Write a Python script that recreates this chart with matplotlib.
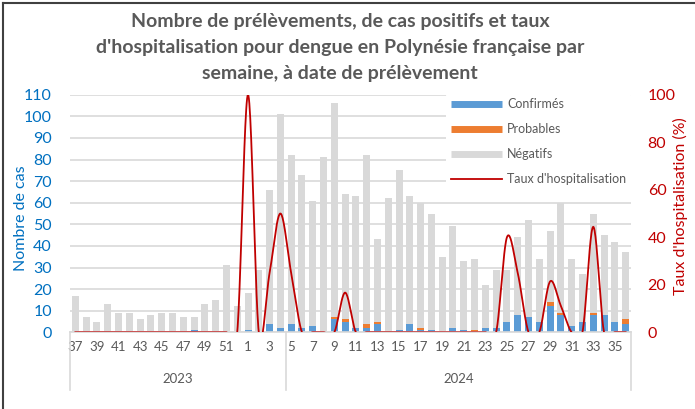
import numpy as np
import matplotlib
matplotlib.use("Agg")
import matplotlib.pyplot as plt
from matplotlib.lines import Line2D

plt.rcParams["font.family"] = ["Lato", "DejaVu Sans"]

# semaines : 37-52 (2023) puis 1-36 (2024)
weeks = list(range(37, 53)) + list(range(1, 37))
year_labels = ["2023", "2024"]
year_sizes = [20, 32]  # nombre de semaines par groupe d'année (comme dans Excel)

totals = [17, 7, 5, 13, 9, 9, 6, 8, 9, 9, 7, 7, 13, 15, 31, 12,
          18, 29, 66, 101, 82, 73, 61, 81, 106, 64, 63, 82, 43, 62, 75, 63,
          60, 55, 35, 49, 33, 34, 22, 29, 29, 44, 52, 34, 47, 60, 34, 27,
          55, 45, 42, 37]
confirmes = [0, 0, 0, 0, 0, 0, 0, 0, 0, 0, 0, 1, 0, 0, 0, 0,
             1, 0, 4, 2, 4, 2, 3, 0, 6, 5, 2, 2, 4, 0, 1, 4,
             1, 1, 0, 2, 1, 0, 2, 2, 5, 8, 7, 5, 12, 8, 3, 5,
             8, 8, 5, 4]
probables = [0, 0, 0, 0, 0, 0, 0, 0, 0, 0, 0, 0, 0, 0, 0, 0,
             0, 0, 0, 0, 0, 0, 0, 0, 1, 1, 0, 2, 1, 0, 0, 0,
             1, 0, 0, 0, 0, 1, 0, 0, 0, 0, 0, 0, 2, 1, 0, 0,
             1, 0, 0, 2]
taux_hosp = [0, 0, 0, 0, 0, 0, 0, 0, 0, 0, 0, 0, 0, 0, 0, 0,
             100, 0, 25, 50, 25, 0, 0, 0, 0, 16.7, 0, 0, 0, 0, 0, 0,
             0, 0, 0, 0, 0, 0, 0, 0, 40, 25, 0, 0, 21.4, 11.1, 0, 0,
             44.4, 0, 0, 0]

conf = np.array(confirmes)
prob = np.array(probables)
neg = np.array(totals) - conf - prob
x = np.arange(len(weeks))

W, H = 695, 409
fig = plt.figure(figsize=(W / 100, H / 100), dpi=100)
ax = fig.add_axes([70 / W, (H - 332.3) / H, 561 / W, 237.6 / H])
ax2 = ax.twinx()

grey_txt = "#595959"
blue_txt = "#0070c0"
red = "#c00000"

# barres empilées
bw = 0.65
ax.bar(x, conf, bw, color="#5b9bd5", zorder=2)
ax.bar(x, prob, bw, bottom=conf, color="#ed7d31", zorder=2)
ax.bar(x, neg, bw, bottom=conf + prob, color="#d9d9d9", zorder=2)

ax.set_xlim(-0.5, len(weeks) - 0.5)
ax.set_ylim(0, 110)
ax.set_yticks(range(0, 111, 10))
ax.yaxis.grid(True, color="#d9d9d9", lw=1.2, zorder=0)
ax.set_axisbelow(True)
for s in ["top", "left", "right"]:
    ax.spines[s].set_visible(False)
ax.spines["bottom"].set_color("#d9d9d9")
ax.spines["bottom"].set_linewidth(1.2)
ax.tick_params(axis="y", length=0, pad=13, labelsize=11.5, labelcolor=blue_txt)
ax.set_xticks(x[::2])
ax.set_xticklabels([str(w) for w in weeks[::2]])
ax.tick_params(axis="x", length=0, pad=6, labelsize=9.5, labelcolor=grey_txt)

# courbe lissée (style Excel)
def smooth(yv, n=24):
    yv = np.asarray(yv, float)
    p = np.concatenate([[yv[0]], yv, [yv[-1]]])
    xs, ys = [], []
    for i in range(len(yv) - 1):
        p0, p1, p2, p3 = p[i], p[i + 1], p[i + 2], p[i + 3]
        c1 = p1 + (p2 - p0) / 6
        c2 = p2 - (p3 - p1) / 6
        t = np.linspace(0, 1, n, endpoint=False)
        b = (1 - t) ** 3 * p1 + 3 * (1 - t) ** 2 * t * c1 + 3 * (1 - t) * t ** 2 * c2 + t ** 3 * p2
        xs.append(i + t)
        ys.append(b)
    xs.append([len(yv) - 1])
    ys.append([yv[-1]])
    return np.concatenate(xs), np.concatenate(ys)

sx, sy = smooth(taux_hosp)
ax2.plot(sx, sy, color=red, lw=1.3, zorder=3)
ax2.set_ylim(0, 100)
ax2.set_yticks(range(0, 101, 20))
for s in ax2.spines.values():
    s.set_visible(False)
ax2.tick_params(axis="y", length=0, pad=12, labelsize=11.5, labelcolor=red)

# étiquettes des axes
fig.text(21 / W, 1 - 218 / H, "Nombre de cas", rotation=90, ha="center", va="center",
         fontsize=11.5, color=blue_txt)
fig.text(680 / W, 1 - 206 / H, "Taux d'hospitalisation (%)", rotation=90, ha="center",
         va="center", fontsize=11.5, color=red)

# catégories multi-niveaux (années)
bounds = np.concatenate([[0], np.cumsum(year_sizes)]) - 0.5
for b in bounds:
    xf = fig.transFigure.inverted().transform(ax.transData.transform((b, 0)))[0]
    fig.add_artist(Line2D([xf, xf], [1 - 332.3 / H, 1 - 390 / H], color="#d9d9d9", lw=1.2))
for lab, a, b in zip(year_labels, bounds[:-1], bounds[1:]):
    xf = fig.transFigure.inverted().transform(ax.transData.transform(((a + b) / 2, 0)))[0]
    fig.text(xf, 1 - 379 / H, lab, ha="center", va="center", fontsize=9.5, color=grey_txt)

# titre
title_lines = ["Nombre de prélèvements, de cas positifs et taux",
               "d'hospitalisation pour dengue en Polynésie française par",
               "semaine, à date de prélèvement"]
for yy, line in zip([22, 48, 74], title_lines):
    fig.text(340 / W, 1 - yy / H, line, ha="center", va="center", fontsize=14,
             fontweight="bold", color=grey_txt)

# légende
handles = [Line2D([], [], color="#5b9bd5", lw=5, solid_capstyle="butt"),
           Line2D([], [], color="#ed7d31", lw=5, solid_capstyle="butt"),
           Line2D([], [], color="#d9d9d9", lw=5, solid_capstyle="butt"),
           Line2D([], [], color=red, lw=1.3)]
labels = ["Confirmés", "Probables", "Négatifs", "Taux d'hospitalisation"]
leg = ax2.legend(handles, labels, loc="upper left", bbox_to_anchor=(446 / W, 1 - 93 / H),
                 bbox_transform=fig.transFigure, frameon=True, facecolor="white",
                 edgecolor="none", framealpha=1, fontsize=9, handlelength=4.1,
                 handletextpad=0.4, labelspacing=1.04, borderpad=0.4, borderaxespad=0)
for t in leg.get_texts():
    t.set_color(grey_txt)

# bordure du graphique
fig.add_artist(Line2D([3 / W, 3 / W], [0, 1 - 3 / H], color="#404040", lw=1.5))
fig.add_artist(Line2D([3 / W, 1], [1 - 3 / H, 1 - 3 / H], color="#404040", lw=1.5))

fig.savefig("out.png", dpi=100)
